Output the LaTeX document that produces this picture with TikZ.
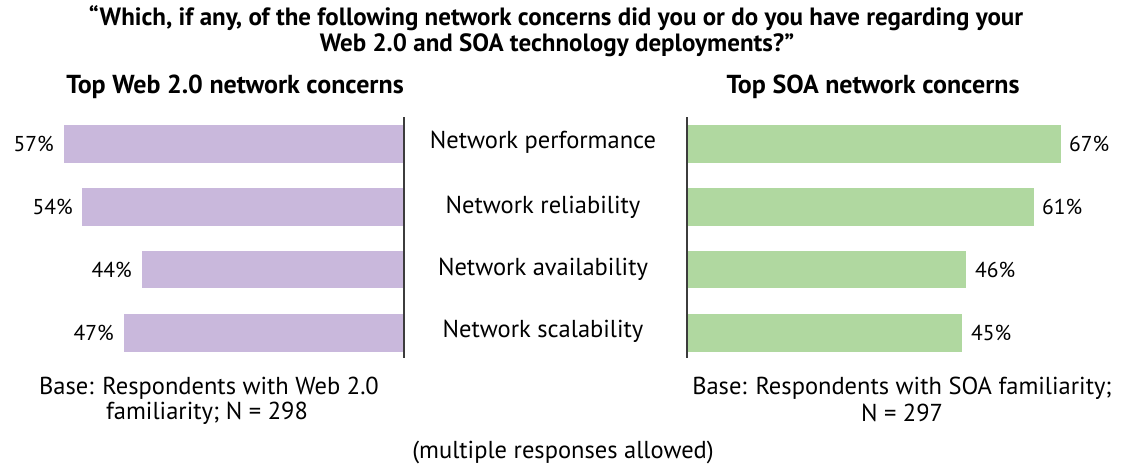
\documentclass[tikz,border=0pt]{standalone}
\usepackage{fontspec}
\setmainfont{PT Sans}
\definecolor{barpurple}{RGB}{201,184,220}
\definecolor{bargreen}{RGB}{176,216,160}
\definecolor{axisgray}{RGB}{60,60,60}
\begin{document}
\begin{tikzpicture}[x=1pt,y=-1pt,
  every node/.style={inner sep=0pt},
  txt/.style={font=\fontsize{24.5}{28}\selectfont},
  pcttxt/.style={font=\fontsize{21.5}{25}\selectfont},
  titletxt/.style={font=\fontsize{25}{28}\selectfont\bfseries},
  headtxt/.style={font=\fontsize{26}{30}\selectfont\bfseries},
  wbar/.style={fill=barpurple},
  sbar/.style={fill=bargreen},
  axisline/.style={draw=axisgray,line width=1.5pt}]
\useasboundingbox (0,0) rectangle (1121,466);
% title
\node[titletxt] (t1) at (556,18) {“Which, if any, of the following network concerns did you or do you have regarding your};
\node[titletxt] (t2) at (557,45) {Web 2.0 and SOA technology deployments?”};
\node[headtxt] (hl) at (235,87) {Top Web 2.0 network concerns};
\node[headtxt] (hr) at (873,87) {Top SOA network concerns};
% left bars
\fill[wbar] (64,125) rectangle (404,163);
\fill[wbar] (82,188) rectangle (404,226);
\fill[wbar] (142,251) rectangle (404,288);
\fill[wbar] (124,314) rectangle (404,352);
% right bars
\fill[sbar] (687,125) rectangle (1061,163);
\fill[sbar] (687,188) rectangle (1034,226);
\fill[sbar] (687,251) rectangle (966,288);
\fill[sbar] (687,314) rectangle (962,352);
% axes
\coordinate (la1) at (404,117); \coordinate (la2) at (404,358);
\coordinate (ra1) at (687,117); \coordinate (ra2) at (687,358);
\draw[axisline] (la1) -- (la2);
\draw[axisline] (ra1) -- (ra2);
% left values
\node[pcttxt,anchor=east] (l1) at (54,144) {57\%};
\node[pcttxt,anchor=east] (l2) at (73,207) {54\%};
\node[pcttxt,anchor=east] (l3) at (132,270) {44\%};
\node[pcttxt,anchor=east] (l4) at (114,333) {47\%};
% right values
\node[pcttxt,anchor=west] (r1) at (1069,144) {67\%};
\node[pcttxt,anchor=west] (r2) at (1042,207) {61\%};
\node[pcttxt,anchor=west] (r3) at (975,270) {46\%};
\node[pcttxt,anchor=west] (r4) at (971,333) {45\%};
% categories
\node[txt] (c1) at (543,142) {Network performance};
\node[txt] (c2) at (543,207) {Network reliability};
\node[txt] (c3) at (543,269) {Network availability};
\node[txt] (c4) at (543,331) {Network scalability};
% bases
\node[txt] (b1) at (209,388) {Base: Respondents with Web 2.0};
\node[txt] (b2) at (207,413) {familiarity; N = 298};
\node[txt] (b3) at (902,388) {Base: Respondents with SOA familiarity;};
\node[txt] (b4) at (902,413) {N = 297};
\node[txt] (note) at (563,452) {(multiple responses allowed)};
\end{tikzpicture}
\end{document}
